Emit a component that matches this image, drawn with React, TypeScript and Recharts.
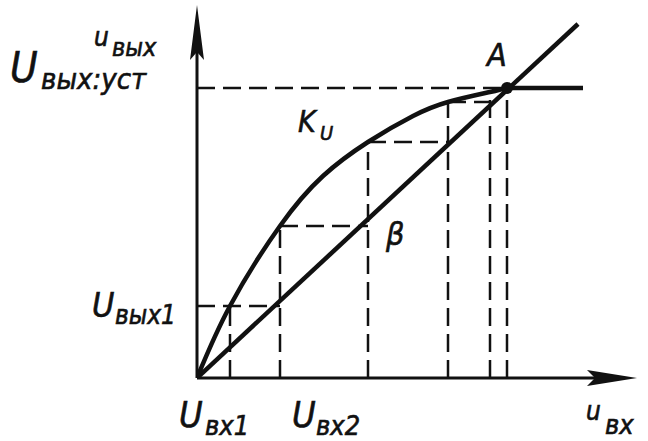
import React from "react";
import {
  ComposedChart,
  Line,
  XAxis,
  YAxis,
  ReferenceLine,
  ReferenceDot,
} from "recharts";

// Amplitude characteristic K_U(u_вх): rising part up to A, then saturation
const kuX = [0, 0.825, 2.075, 3.15, 4.275, 5.4, 6.275, 7.325, 7.75];
const kuY = [0, 1.8, 3.8, 5.05, 5.9, 6.55, 6.9, 7.15, 7.25];
const satX = [7.75, 9.65];
const satY = [7.25, 7.25];

// Feedback line β
const betaX = [0, 9.525];
const betaY = [0, 8.85];

// Build-up staircase between K_U and β
const stepX = [0.825, 2.075, 4.275, 6.275, 7.325];
const stepY = [1.8, 3.8, 5.9, 6.9, 7.15];

// Steady-state point A
const pointA = { x: 7.75, y: 7.25 };

const X_MAX = 11;
const Y_MAX = 9.325;

const INK = "#111";
const FONT = "'DejaVu Sans Condensed', 'DejaVu Sans', sans-serif";

const kuData = kuX.map((x, i) => ({ x, y: kuY[i] }));
const satData = satX.map((x, i) => ({ x, y: satY[i] }));
const betaData = betaX.map((x, i) => ({ x, y: betaY[i] }));

const dash = "18 8";

const ArrowUp = ({ cx, cy }: { cx?: number; cy?: number }) => {
  if (cx == null || cy == null) return null;
  return (
    <polygon
      points={`${cx},${cy} ${cx + 7},${cy + 55} ${cx},${cy + 47} ${cx - 7},${cy + 55}`}
      fill={INK}
    />
  );
};

const ArrowRight = ({ cx, cy }: { cx?: number; cy?: number }) => {
  if (cx == null || cy == null) return null;
  return (
    <polygon
      points={`${cx},${cy} ${cx - 50},${cy - 8} ${cx - 42},${cy} ${cx - 50},${cy + 8}`}
      fill={INK}
    />
  );
};

const Labels = () => (
  <svg
    width={648}
    height={441}
    style={{ position: "absolute", left: 0, top: 0, pointerEvents: "none" }}
  >
    <g
      fill={INK}
      stroke={INK}
      strokeWidth={0.6}
      fontFamily={FONT}
      fontStyle="italic"
    >
      <text x={94} y={46} fontSize={26}>u</text>
      <text x={112} y={56} fontSize={25}>вых</text>

      <text x={10} y={82} fontSize={42}>U</text>
      <text x={41} y={89} fontSize={29}>вых:уст</text>

      <text x={487} y={66} fontSize={32}>A</text>

      <text x={298} y={132} fontSize={30}>K</text>
      <text x={320} y={140} fontSize={20}>U</text>

      <text x={386} y={245} fontSize={32}>β</text>

      <text x={92} y={317} fontSize={34}>U</text>
      <text x={115} y={324} fontSize={26}>вых1</text>

      <text x={179} y={427} fontSize={36}>U</text>
      <text x={205} y={435} fontSize={27}>вх1</text>

      <text x={292} y={427} fontSize={36}>U</text>
      <text x={316} y={435} fontSize={27}>вх2</text>

      <text x={586} y={420} fontSize={26}>u</text>
      <text x={605} y={434} fontSize={27}>вх</text>
    </g>
  </svg>
);

export default function App() {
  return (
    <div
      style={{
        position: "absolute",
        left: 0,
        top: 0,
        width: 648,
        height: 441,
        background: "#fff",
      }}
    >
      <ComposedChart
        width={648}
        height={441}
        margin={{ top: 5, right: 11, bottom: 63, left: 197 }}
      >
        <XAxis
          type="number"
          dataKey="x"
          domain={[0, X_MAX]}
          allowDataOverflow
          hide
        />
        <YAxis type="number" domain={[0, Y_MAX]} allowDataOverflow hide />

        {/* axes */}
        <ReferenceLine
          segment={[{ x: 0, y: 0 }, { x: X_MAX - 0.5, y: 0 }]}
          stroke={INK}
          strokeWidth={3}
          ifOverflow="visible"
        />
        <ReferenceLine
          segment={[{ x: 0, y: 0 }, { x: 0, y: Y_MAX - 0.5 }]}
          stroke={INK}
          strokeWidth={3}
          ifOverflow="visible"
        />
        <ReferenceDot x={0} y={Y_MAX} r={1} ifOverflow="visible" shape={ArrowUp} />
        <ReferenceDot x={X_MAX} y={0} r={1} ifOverflow="visible" shape={ArrowRight} />

        {/* steady-state level */}
        <ReferenceLine
          segment={[{ x: 0, y: pointA.y }, { x: pointA.x, y: pointA.y }]}
          stroke={INK}
          strokeWidth={2.5}
          strokeDasharray={dash}
          ifOverflow="visible"
        />
        <ReferenceLine
          segment={[{ x: pointA.x, y: 0 }, { x: pointA.x, y: pointA.y }]}
          stroke={INK}
          strokeWidth={2.5}
          strokeDasharray={dash}
          ifOverflow="visible"
        />

        {/* staircase: verticals up to K_U, horizontals across to β */}
        {stepX.map((x, i) => (
          <ReferenceLine
            key={`v${i}`}
            segment={[{ x, y: 0 }, { x, y: stepY[i] }]}
            stroke={INK}
            strokeWidth={2.5}
            strokeDasharray={dash}
            ifOverflow="visible"
          />
        ))}
        {stepY.slice(0, -1).map((y, i) => (
          <ReferenceLine
            key={`h${i}`}
            segment={[{ x: i === 0 ? 0 : stepX[i], y }, { x: stepX[i + 1], y }]}
            stroke={INK}
            strokeWidth={2.5}
            strokeDasharray={dash}
            ifOverflow="visible"
          />
        ))}

        <Line
          data={betaData}
          dataKey="y"
          type="linear"
          stroke={INK}
          strokeWidth={4.5}
          dot={false}
          isAnimationActive={false}
        />
        <Line
          data={kuData}
          dataKey="y"
          type="natural"
          stroke={INK}
          strokeWidth={4.5}
          strokeLinecap="round"
          dot={false}
          isAnimationActive={false}
        />
        <Line
          data={satData}
          dataKey="y"
          type="linear"
          stroke={INK}
          strokeWidth={4.5}
          dot={false}
          isAnimationActive={false}
        />
        <ReferenceDot
          x={pointA.x}
          y={pointA.y}
          r={6}
          fill={INK}
          stroke="none"
          ifOverflow="visible"
        />
      </ComposedChart>
      <Labels />
    </div>
  );
}
